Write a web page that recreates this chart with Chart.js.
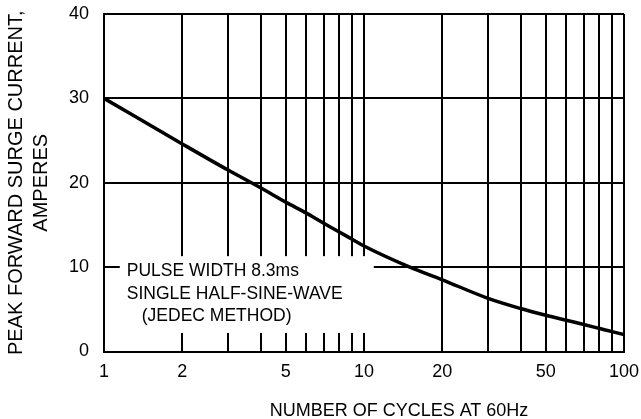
<!DOCTYPE html>
<html><head><meta charset="utf-8">
<script src="https://cdn.jsdelivr.net/npm/chart.js@4/dist/chart.umd.min.js"></script>
<style>html,body{margin:0;padding:0;background:#fff;}</style>
</head><body>
<canvas id="c" width="641" height="419"></canvas>
<script>
const cycles = [1,2,3,4,5,6,7,8,9,10,15,20,30,40,50,60,70,80,90,100];
const surgeCurrent = [30,24.6,21.5,19.4,17.7,16.4,15.2,14.2,13.3,12.5,10.0,8.5,6.3,5.1,4.3,3.7,3.2,2.75,2.35,2.0];
const xGridValues = [1,2,3,4,5,6,7,8,9,10,20,30,40,50,60,70,80,90,100];
const xTickLabels = [1,2,5,10,20,50,100];
const yTicks = [0,10,20,30,40];
const yTitle = ['PEAK FORWARD SURGE CURRENT,', 'AMPERES'];
const xTitle = 'NUMBER OF CYCLES AT 60Hz';
const noteLines = ['PULSE WIDTH 8.3ms', 'SINGLE HALF-SINE-WAVE', '   (JEDEC METHOD)'];

const FONT = 'Liberation Sans, Arial, sans-serif';

const notePlugin = {
  id: 'note',
  afterDatasetsDraw(chart) {
    const {ctx, scales: {x, y}} = chart;
    const left = x.getPixelForValue(1.15), right = x.getPixelForValue(10.9);
    const top = y.getPixelForValue(11.3), bottom = y.getPixelForValue(2.2);
    ctx.save();
    ctx.fillStyle = '#fff';
    ctx.fillRect(left, top, right - left, bottom - top);
    ctx.fillStyle = '#000';
    ctx.font = '17.5px ' + FONT;
    ctx.textBaseline = 'middle';
    ctx.textAlign = 'left';
    noteLines.forEach((t, i) => {
      ctx.fillText(t.trim(), left + 7 + (t.startsWith(' ') ? 15 : 0), top + 15 + i * 22.7);
    });
    ctx.restore();
  },
  afterDraw(chart) {
    const {ctx} = chart;
    ctx.save();
    ctx.fillStyle = '#000';
    ctx.font = '18px ' + FONT;
    ctx.textAlign = 'center';
    ctx.textBaseline = 'middle';
    ctx.fillText(xTitle, 399, 411);
    ctx.restore();
  }
};

function noPad(s) { s.paddingTop = 0; s.paddingBottom = 0; s.paddingLeft = 0; s.paddingRight = 0; }

new Chart(document.getElementById('c'), {
  type: 'line',
  data: {
    datasets: [{
      data: cycles.map((c, i) => ({x: c, y: surgeCurrent[i]})),
      borderColor: '#000',
      borderWidth: 3.5,
      pointRadius: 0,
      fill: false,
      cubicInterpolationMode: 'monotone'
    }]
  },
  options: {
    responsive: false,
    animation: false,
    layout: {padding: {top: 14, right: 17, left: 0, bottom: 0}},
    plugins: {legend: {display: false}, tooltip: {enabled: false}},
    scales: {
      x: {
        type: 'logarithmic', min: 1, max: 100,
        afterBuildTicks: s => { s.ticks = xGridValues.map(v => ({value: v})); },
        afterFit: s => { s.height = 67.5; noPad(s); },
        grid: {color: '#000', lineWidth: 2, drawTicks: false},
        border: {color: '#000', width: 2},
        ticks: {
          color: '#000', font: {family: FONT, size: 18}, padding: 10,
          maxRotation: 0, autoSkip: false,
          callback: v => xTickLabels.includes(v) ? String(v) : ''
        }
      },
      y: {
        min: 0, max: 40,
        afterBuildTicks: s => { s.ticks = yTicks.map(v => ({value: v})); },
        afterFit: s => { s.width = 104; noPad(s); },
        grid: {color: '#000', lineWidth: 2, drawTicks: false},
        border: {color: '#000', width: 2},
        ticks: {color: '#000', font: {family: FONT, size: 18}, padding: 15},
        title: {
          display: true, text: yTitle, color: '#000',
          font: {family: FONT, size: 20, lineHeight: 1.25},
          padding: {top: 4, bottom: 0}
        }
      }
    }
  },
  plugins: [notePlugin]
});
</script>
</body></html>
